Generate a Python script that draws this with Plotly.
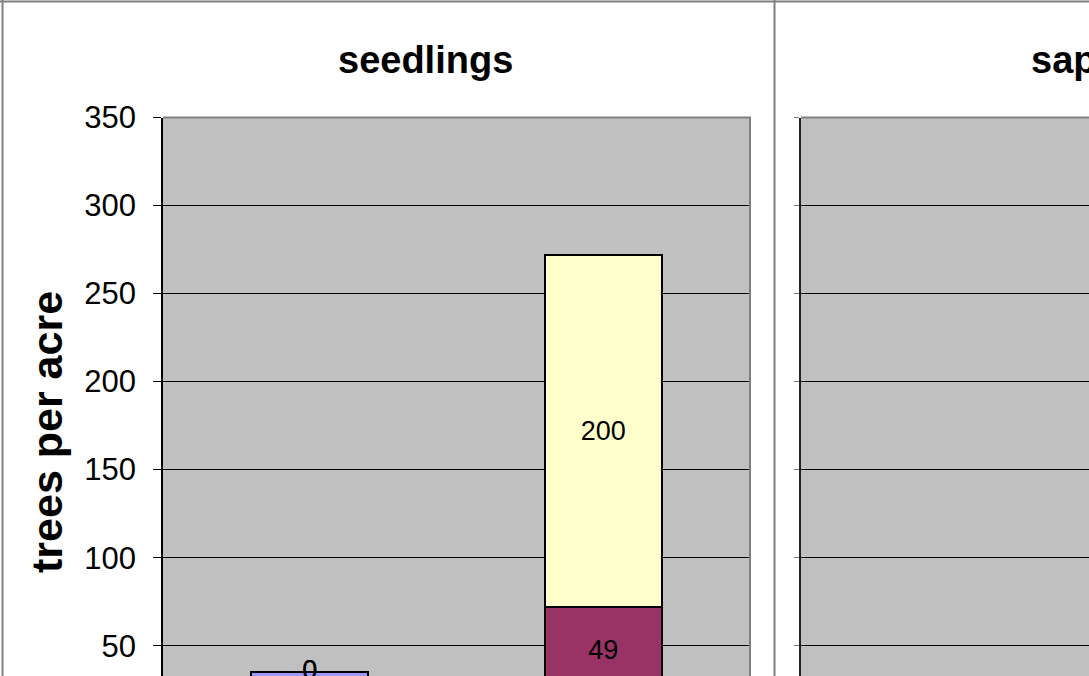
import plotly.graph_objects as go

W, H = 1089, 676

# ---- data ----
categories = ["before", "after"]
series_names = ["other species", "species B", "species A"]
other_vals = [35, 23]
maroon_vals = [0, 49]
yellow_vals = [0, 200]
series_values = [other_vals, maroon_vals, yellow_vals]
series_colors = ["#9999FF", "#993366", "#FFFFCC"]
sapling_vals = [None, None]   # nothing of the saplings panel is readable in the crop
y_tick_vals = [0, 50, 100, 150, 200, 250, 300, 350]
panel_titles = ["seedlings", "saplings"]
y_title = "trees per acre"

FONT = "Liberation Sans, Arial, sans-serif"
GRAY = "#808080"


def fx(x):
    return x / W


def fy(y):
    return 1 - y / H


fig = go.Figure()

# stacked bars for seedlings
for name, vals, col in zip(series_names, series_values, series_colors):
    fig.add_trace(go.Bar(
        x=categories, y=vals, name=name,
        marker=dict(color=col, line=dict(color="black", width=2)),
        text=[str(v) if v else "" for v in vals],
        textposition="inside", insidetextanchor="middle",
        textfont=dict(family=FONT, size=27, color="black"),
        textangle=0,
        xaxis="x", yaxis="y",
    ))

# labels for zero-valued segments (drawn at their stack position)
zx, zy, zt = [], [], []
cum = [0] * len(categories)
for vals in series_values:
    for i, v in enumerate(vals):
        cum[i] += v
        if v == 0:
            zx.append(categories[i])
            zy.append(cum[i])
            zt.append(str(v))
fig.add_trace(go.Scatter(
    x=zx, y=zy, text=zt, mode="text", textposition="middle center",
    textfont=dict(family=FONT, size=27, color="black"),
    xaxis="x", yaxis="y", showlegend=False, hoverinfo="skip",
))

# saplings panel (empty in the visible crop)
fig.add_trace(go.Bar(x=categories, y=sapling_vals, name="saplings",
                     xaxis="x2", yaxis="y2", showlegend=False))

y_range = [32.8, 350]
top_dom = fy(117.5)

fig.update_layout(
    width=W, height=H,
    margin=dict(l=0, r=0, t=0, b=0, autoexpand=False),
    paper_bgcolor="white",
    plot_bgcolor="#C0C0C0",
    barmode="stack", bargap=0.6,
    showlegend=False,
    xaxis=dict(domain=[fx(163), fx(750)], type="category", range=[-0.5, 1.5],
               showticklabels=False, showgrid=False, automargin=False,
               zeroline=False, showline=False, ticks=""),
    yaxis=dict(domain=[0, top_dom], range=y_range, tickvals=y_tick_vals,
               showgrid=True, gridcolor="black", gridwidth=1, zeroline=False,
               showline=True, linecolor="black", linewidth=1.5, automargin=False,
               ticks="outside", ticklen=8, tickcolor="black", tickwidth=1,
               ticklabelstandoff=11,
               tickfont=dict(family=FONT, size=31, color="black")),
    xaxis2=dict(domain=[fx(801), 1], anchor="y2", type="category", range=[-0.5, 1.5],
                showticklabels=False, showgrid=False, zeroline=False, showline=False,
                ticks="", automargin=False),
    yaxis2=dict(domain=[0, top_dom], anchor="x2", range=y_range, tickvals=y_tick_vals,
                showgrid=True, gridcolor="black", gridwidth=1, zeroline=False,
                showline=True, linecolor="#222222", linewidth=2, automargin=False,
                ticks="outside", ticklen=5, tickcolor=GRAY, showticklabels=False),
)

shapes = [
    # outer chart borders
    dict(type="line", xref="paper", yref="paper", x0=0, x1=1, y0=fy(1.5), y1=fy(1.5),
         line=dict(color=GRAY, width=2)),
    dict(type="line", xref="paper", yref="paper", x0=fx(2.5), x1=fx(2.5), y0=0, y1=1,
         line=dict(color=GRAY, width=2)),
    dict(type="line", xref="paper", yref="paper", x0=fx(774.5), x1=fx(774.5), y0=0, y1=1,
         line=dict(color=GRAY, width=2)),
    # plot-area borders
    dict(type="line", xref="paper", yref="paper", x0=fx(163), x1=fx(751), y0=top_dom, y1=top_dom,
         line=dict(color=GRAY, width=2)),
    dict(type="line", xref="paper", yref="paper", x0=fx(750), x1=fx(750), y0=0, y1=top_dom,
         line=dict(color=GRAY, width=2)),
    dict(type="line", xref="paper", yref="paper", x0=fx(801), x1=1, y0=top_dom, y1=top_dom,
         line=dict(color=GRAY, width=2)),
]
fig.update_layout(shapes=shapes)

fig.update_layout(annotations=[
    dict(text="<b>" + panel_titles[0] + "</b>", xref="paper", yref="paper",
         x=fx(425), y=fy(60), xanchor="center", yanchor="middle", showarrow=False,
         font=dict(family=FONT, size=38, color="black")),
    dict(text="<b>" + panel_titles[1] + "</b>", xref="paper", yref="paper",
         x=fx(1029), y=fy(60), xanchor="left", yanchor="middle", showarrow=False,
         font=dict(family=FONT, size=38, color="black")),
    dict(text="<b>" + y_title + "</b>", xref="paper", yref="paper",
         x=fx(47), y=fy(432), xanchor="center", yanchor="middle", showarrow=False,
         textangle=-90, font=dict(family=FONT, size=43, color="black")),
])

fig.write_html("out.html", config={"displayModeBar": False},
               post_script="document.body.style.margin='0';document.body.style.overflow='hidden';")
